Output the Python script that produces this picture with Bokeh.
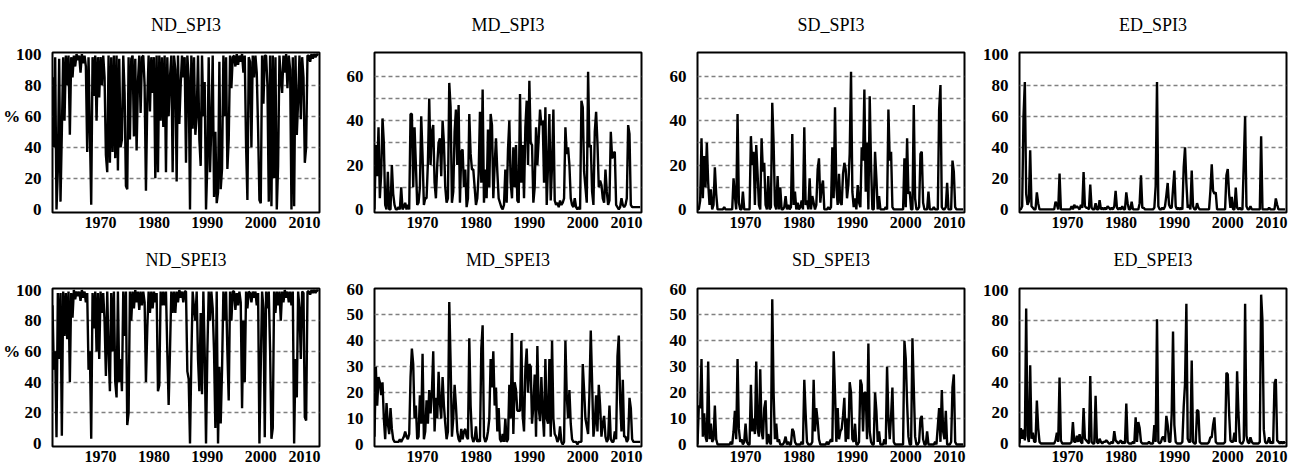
from bokeh.plotting import figure
from bokeh.layouts import gridplot
from bokeh.models import FixedTicker, Range1d, Title
from bokeh.embed import file_html
from bokeh.resources import INLINE

# ---------------- data (quarterly readings, 1961-2010) ----------------
start_year = 1961
n_years = 50
per_year = 4

ND_SPI3 = [
    85, 40, 98, 0,   25, 97, 5, 50,   98, 57, 99, 80,  99, 48, 98, 85,  99, 92, 100, 96,
    99, 88, 100, 94, 99, 92, 37, 98,  50, 3, 98, 73,   99, 57, 98, 72,  98, 80, 99, 85,
    35, 24, 99, 30,  98, 37, 99, 33,  99, 25, 97, 40,  45, 99, 75, 15,  13, 98, 45, 97,
    99, 47, 97, 38,  82, 99, 62, 98,  99, 80, 12, 70,  99, 63, 98, 75,  98, 20, 99, 24,
    99, 57, 98, 53,  99, 24, 98, 60,  85, 99, 24, 99,  90, 18, 99, 55,  80, 99, 85, 98,
    30, 99, 85, 0,   99, 52, 98, 48,  60, 99, 45, 28,  99, 60, 82, 0,   30, 98, 24, 55,
    99, 8, 50, 4,    11, 95, 13, 26,  99, 60, 98, 26,  45, 99, 78, 98,  99, 92, 100, 93,
    99, 95, 100, 88, 99, 41, 6, 98,   95, 40, 99, 85,  99, 88, 52, 6,   4, 99, 68, 99,
    99, 80, 5, 99,   2, 99, 20, 98,   0, 28, 99, 85,   75, 99, 88, 100, 78, 99, 90, 0,
    98, 2, 99, 48,   70, 99, 58, 98,  85, 30, 40, 99,  99, 95, 100, 97, 100, 98, 100, 99,
]
MD_SPI3 = [
    0, 29, 15, 37,   5, 16, 41, 30,   2, 0, 17, 0,     0, 20, 7, 2,     0, 0, 1, 0,
    10, 0, 1, 3,     0, 2, 0, 43,     43, 10, 37, 20,  2, 3, 10, 42,    24, 2, 5, 5,
    21, 50, 20, 35,  38, 12, 5, 20,   30, 32, 15, 40,  30, 10, 3, 5,    57, 46, 3, 8,
    35, 45, 20, 47,  3, 26, 27, 10,   18, 1, 5, 43,    25, 18, 18, 10,  2, 5, 16, 44,
    12, 54, 3, 18,   5, 36, 10, 43,   38, 5, 20, 32,   17, 5, 3, 1,     0, 2, 18, 3,
    27, 40, 12, 5,   28, 10, 29, 4,   3, 52, 12, 29,   5, 37, 49, 20,   58, 30, 29, 3,
    10, 37, 20, 32,  45, 38, 40, 12,  46, 2, 20, 43,   4, 20, 45, 4,    2, 3, 1, 4,
    2, 3, 5, 37,     25, 28, 20, 5,   2, 1, 5, 1,      0, 1, 0, 49,     46, 17, 10, 3,
    62, 28, 29, 8,   2, 35, 44, 30,   10, 13, 11, 5,   3, 18, 8, 2,     4, 35, 23, 25,
    26, 2, 1, 0,     1, 5, 2, 1,      2, 5, 38, 34,    2, 1, 1, 1,      1, 1, 1, 1,
]
SD_SPI3 = [
    0, 0, 4, 32,     5, 24, 10, 30,   12, 2, 9, 0,     2, 19, 7, 0,     0, 0, 0, 0,
    1, 0, 0, 0,      0, 0, 0, 14,     6, 0, 43, 3,     0, 0, 8, 0,      0, 0, 0, 0,
    33, 20, 26, 2,   29, 16, 2, 0,    32, 17, 21, 2,   0, 15, 0, 1,     48, 30, 2, 0,
    15, 0, 10, 0,    0, 1, 6, 0,      2, 0, 1, 34,     2, 8, 0, 3,      0, 1, 4, 0,
    37, 2, 4, 0,     14, 0, 6, 3,     0, 2, 18, 23,    3, 10, 13, 0,    0, 0, 1, 0,
    1, 28, 5, 46,    10, 2, 16, 3,    2, 16, 21, 18,   5, 11, 25, 62,   8, 1, 5, 0,
    11, 3, 1, 28,    22, 54, 8, 30,   0, 51, 20, 0,    0, 26, 14, 0,    6, 0, 0, 0,
    0, 1, 0, 45,     22, 26, 1, 0,    0, 0, 0, 0,      0, 0, 0, 23,     1, 32, 7, 8,
    0, 0, 47, 5,     0, 0, 1, 25,     26, 3, 0, 0,     0, 8, 0, 0,      0, 1, 0, 0,
    0, 45, 56, 1,    0, 0, 1, 12,     0, 0, 0, 22,     17, 1, 0, 0,     0, 0, 0, 0,
]
ED_SPI3 = [
    0, 0, 2, 60,     82, 10, 3, 5,    38, 2, 1, 0,     0, 11, 4, 0,     0, 0, 0, 0,
    0, 0, 0, 0,      0, 0, 0, 5,      3, 0, 23, 0,     0, 0, 0, 0,      0, 0, 0, 2,
    0, 3, 1, 2,      1, 0, 3, 1,      24, 2, 1, 1,     0, 16, 1, 0,     0, 4, 0, 0,
    6, 0, 1, 0,      1, 0, 2, 1,      0, 1, 0, 2,      12, 1, 0, 1,     0, 2, 0, 0,
    11, 4, 0, 0,     5, 0, 0, 0,      0, 0, 4, 22,     1, 1, 0, 0,      0, 0, 0, 0,
    0, 1, 15, 82,    2, 0, 0, 1,      0, 2, 9, 17,     3, 1, 1, 13,     25, 2, 0, 1,
    0, 1, 0, 27,     40, 17, 1, 3,    0, 25, 2, 0,     0, 4, 1, 0,      0, 0, 0, 0,
    0, 0, 0, 12,     29, 12, 10, 11,  0, 0, 0, 0,      0, 0, 0, 22,     26, 10, 1, 8,
    0, 0, 14, 1,     0, 1, 0, 0,      30, 60, 2, 0,    0, 2, 0, 0,      0, 0, 0, 0,
    0, 47, 0, 0,     0, 0, 0, 1,      0, 0, 0, 0,      7, 3, 0, 0,      0, 0, 0, 0,
]
ND_SPEI3 = [
    90, 48, 60, 4,   98, 55, 98, 5,   99, 70, 98, 68,  99, 40, 98, 82,  100, 94, 99, 96,
    99, 93, 100, 95, 99, 92, 98, 48,  60, 3, 98, 75,   99, 60, 98, 55,  99, 85, 98, 80,
    44, 99, 60, 34,  98, 60, 99, 40,  30, 99, 40, 55,  34, 99, 70, 99,  12, 20, 99, 80,
    99, 88, 100, 92, 99, 87, 99, 90,  99, 92, 40, 75,  99, 85, 99, 88,  99, 92, 98, 34,
    38, 99, 90, 99,  90, 99, 60, 25,  60, 99, 85, 99,  85, 99, 92, 100, 95, 99, 92, 99,
    99, 47, 42, 0,   55, 99, 88, 80,  99, 55, 34, 85,  32, 99, 60, 0,   60, 99, 80, 99,
    88, 60, 10, 99,  0, 50, 13, 48,   99, 80, 99, 60,  28, 99, 80, 99,  99, 87, 98, 90,
    99, 92, 23, 80,  40, 99, 88, 99,  98, 92, 99, 95,  99, 90, 98, 0,   50, 99, 88, 4,
    99, 88, 99, 60,  3, 10, 99, 85,   99, 90, 99, 80,  99, 92, 100, 95, 99, 92, 99, 90,
    99, 0, 55, 30,   99, 88, 55, 99,  98, 17, 15, 99,  99, 97, 100, 98, 100, 98, 100, 99,
]
MD_SPEI3 = [
    3, 30, 15, 26,   24, 19, 24, 10,  2, 16, 8, 4,     14, 6, 2, 1,     1, 1, 1, 2,
    1, 2, 3, 5,      3, 2, 4, 26,     37, 31, 10, 15,  2, 3, 19, 8,     35, 2, 5, 17,
    8, 21, 12, 20,   36, 5, 18, 10,   28, 16, 10, 26,  15, 8, 2, 5,     55, 32, 3, 10,
    23, 15, 5, 2,    1, 6, 2, 5,      6, 3, 2, 41,     15, 3, 1, 2,     7, 1, 2, 1,
    37, 46, 3, 1,    2, 5, 10, 33,    22, 36, 15, 22,  5, 14, 2, 1,     4, 1, 10, 1,
    2, 23, 10, 43,   4, 24, 21, 13,   13, 13, 40, 11,  5, 29, 37, 20,   31, 30, 8, 15,
    27, 3, 38, 14,   9, 26, 12, 3,    33, 10, 8, 33,   3, 40, 10, 4,    3, 1, 2, 7,
    1, 0, 1, 40,     19, 10, 21, 8,   2, 1, 1, 1,      0, 1, 1, 1,      31, 21, 10, 7,
    4, 20, 44, 24,   3, 8, 19, 5,     23, 15, 3, 8,    11, 3, 1, 2,     15, 2, 1, 1,
    5, 2, 34, 42,    17, 5, 25, 3,    3, 1, 2, 18,     14, 2, 1, 1,     1, 1, 1, 1,
]
SD_SPEI3 = [
    0, 15, 14, 33,   3, 12, 3, 1,     32, 2, 8, 1,     2, 15, 2, 0,     0, 0, 0, 0,
    0, 0, 0, 0,      0, 1, 0, 5,      13, 2, 33, 6,    1, 2, 0, 1,      8, 1, 0, 0,
    23, 5, 10, 4,    32, 6, 3, 29,    5, 2, 14, 17,    0, 4, 1, 0,      56, 20, 2, 8,
    1, 2, 0, 0,      0, 1, 3, 0,      1, 0, 0, 6,      5, 1, 0, 0,      0, 0, 1, 0,
    25, 12, 1, 0,    0, 0, 1, 25,     5, 14, 9, 2,     0, 0, 0, 0,      0, 1, 0, 1,
    2, 1, 36, 20,    1, 14, 2, 5,     6, 11, 18, 1,    10, 2, 24, 20,   2, 1, 8, 0,
    0, 1, 25, 23,    5, 20, 20, 2,    39, 5, 1, 0,     0, 20, 13, 1,    5, 0, 0, 0,
    2, 0, 30, 10,    2, 11, 22, 1,    0, 0, 0, 0,      0, 0, 0, 40,     33, 16, 3, 0,
    0, 41, 22, 3,    0, 0, 1, 10,     11, 2, 0, 0,     5, 0, 0, 0,      0, 0, 1, 0,
    7, 14, 1, 21,    5, 2, 13, 0,     0, 0, 1, 22,     27, 1, 0, 0,     0, 0, 0, 0,
]
ED_SPEI3 = [
    0, 10, 3, 9,     2, 88, 5, 1,     51, 3, 7, 1,     1, 28, 10, 1,    0, 0, 0, 0,
    0, 0, 0, 0,      0, 0, 0, 2,      7, 1, 43, 2,     0, 0, 0, 0,      0, 0, 0, 1,
    14, 1, 1, 5,     1, 6, 1, 0,      23, 3, 2, 1,     0, 44, 1, 0,     0, 31, 1, 0,
    3, 1, 0, 1,      1, 2, 1, 0,      0, 1, 0, 8,      2, 1, 0, 1,      2, 0, 1, 0,
    26, 1, 0, 0,     0, 1, 0, 17,     1, 14, 10, 1,    0, 0, 0, 0,      0, 1, 0, 0,
    0, 12, 1, 81,    1, 0, 1, 4,      4, 1, 18, 12,    1, 1, 19, 73,    12, 1, 0, 0,
    0, 0, 1, 24,     39, 91, 3, 1,    1, 54, 1, 0,     0, 22, 21, 1,    0, 0, 0, 0,
    0, 0, 1, 4,      4, 12, 17, 1,    0, 0, 0, 0,      0, 0, 1, 46,     45, 20, 2, 1,
    1, 7, 1, 47,     20, 1, 0, 0,     2, 91, 5, 1,     0, 4, 1, 0,      0, 0, 0, 0,
    1, 97, 80, 9,    1, 0, 1, 4,      0, 1, 0, 39,     42, 2, 1, 0,     1, 0, 1, 0,
]

titles = ["ND_SPI3", "MD_SPI3", "SD_SPI3", "ED_SPI3",
          "ND_SPEI3", "MD_SPEI3", "SD_SPEI3", "ED_SPEI3"]
series = [ND_SPI3, MD_SPI3, SD_SPI3, ED_SPI3,
          ND_SPEI3, MD_SPEI3, SD_SPEI3, ED_SPEI3]

yticks_100 = [0, 20, 40, 60, 80, 100]
yticks_70 = [0, 20, 40, 60]
yticks_60 = [0, 10, 20, 30, 40, 50, 60]
grid_100 = [20, 40, 60, 80]
grid_70 = [10, 20, 30, 40, 50, 60]
grid_60 = [10, 20, 30, 40, 50]
y_unit = "%"

xtick_labels = ["1970", "1980", "1990", "2000", "2010"]
# last label is pulled inside the frame, as in the reference
xtick_at = [1970, 1980, 1990, 2000, 2008.2]

# ---------------- layout / style ----------------
FONT = "Liberation Serif"
time = [start_year + i / per_year for i in range(n_years * per_year)]

col_w = [328, 320, 320, 328]
border_left = [52, 46, 49, 51]
border_right = [9, 7, 4, 10]
row_h = [237, 228]
border_top = [52, 51]
border_bottom = [25, 19]
title_standoff = [8, 7]
spacer_font = ["9px", "10px"]

spec = {
    "ND": ((-2, 101), yticks_100, grid_100),
    "ED": ((-2, 101), yticks_100, grid_100),
    "MD_SPI3": ((-1.4, 70.7), yticks_70, grid_70),
    "SD_SPI3": ((-1.4, 70.7), yticks_70, grid_70),
    "MD_SPEI3": ((-0.8, 60.2), yticks_60, grid_60),
    "SD_SPEI3": ((-0.8, 60.2), yticks_60, grid_60),
}


def get_spec(title):
    key = title.split("_")[0]
    if key in ("ND", "ED"):
        return spec[key]
    return spec[title]


rows = []
for r in range(2):
    row = []
    for c in range(4):
        k = r * 4 + c
        title = titles[k]
        yr, yt, gt = get_spec(title)
        p = figure(width=col_w[c], height=row_h[r],
                   x_range=Range1d(1961, 2011), y_range=Range1d(*yr),
                   output_backend="svg", toolbar_location=None, tools="",
                   min_border_left=border_left[c], min_border_right=border_right[c],
                   min_border_top=border_top[r], min_border_bottom=border_bottom[r],
                   title=title)
        p.title.align = "center"
        p.title.text_font = FONT
        p.title.text_font_size = "18px"
        p.title.text_font_style = "normal"
        p.title.text_color = "black"
        p.title.standoff = title_standoff[r]
        # blank spacer between the frame and the title
        p.add_layout(Title(text=" ", text_font_size=spacer_font[r], standoff=2), "above")

        p.line(time, series[k], line_color="black", line_width=2.4)

        p.outline_line_color = "black"
        p.outline_line_width = 2
        p.outline_line_alpha = 1
        p.background_fill_color = "white"
        p.border_fill_color = "white"

        p.xgrid.visible = False
        p.ygrid.ticker = FixedTicker(ticks=gt)
        p.ygrid.grid_line_color = "#808080"
        p.ygrid.grid_line_dash = "4 3"
        p.ygrid.grid_line_width = 1.5

        p.xaxis.ticker = FixedTicker(ticks=xtick_at)
        p.xaxis.major_label_overrides = {t: s for t, s in zip(xtick_at, xtick_labels)}
        p.yaxis.ticker = FixedTicker(ticks=yt)
        if c == 0:
            p.yaxis.major_label_overrides = {60: y_unit + " 60"}
        for ax in (p.xaxis, p.yaxis):
            ax.axis_line_color = None
            ax.major_tick_line_color = None
            ax.minor_tick_line_color = None
            ax.major_label_text_font = FONT
            ax.major_label_text_font_style = "bold"
            ax.major_label_text_color = "black"
        p.xaxis.major_label_text_font_size = "16px"
        p.yaxis.major_label_text_font_size = "17px"
        p.xaxis.major_label_standoff = -2
        p.yaxis.major_label_standoff = 5
        row.append(p)
    rows.append(row)

layout = gridplot(rows, toolbar_location=None)
open("out.html", "w").write(file_html(layout, INLINE))
